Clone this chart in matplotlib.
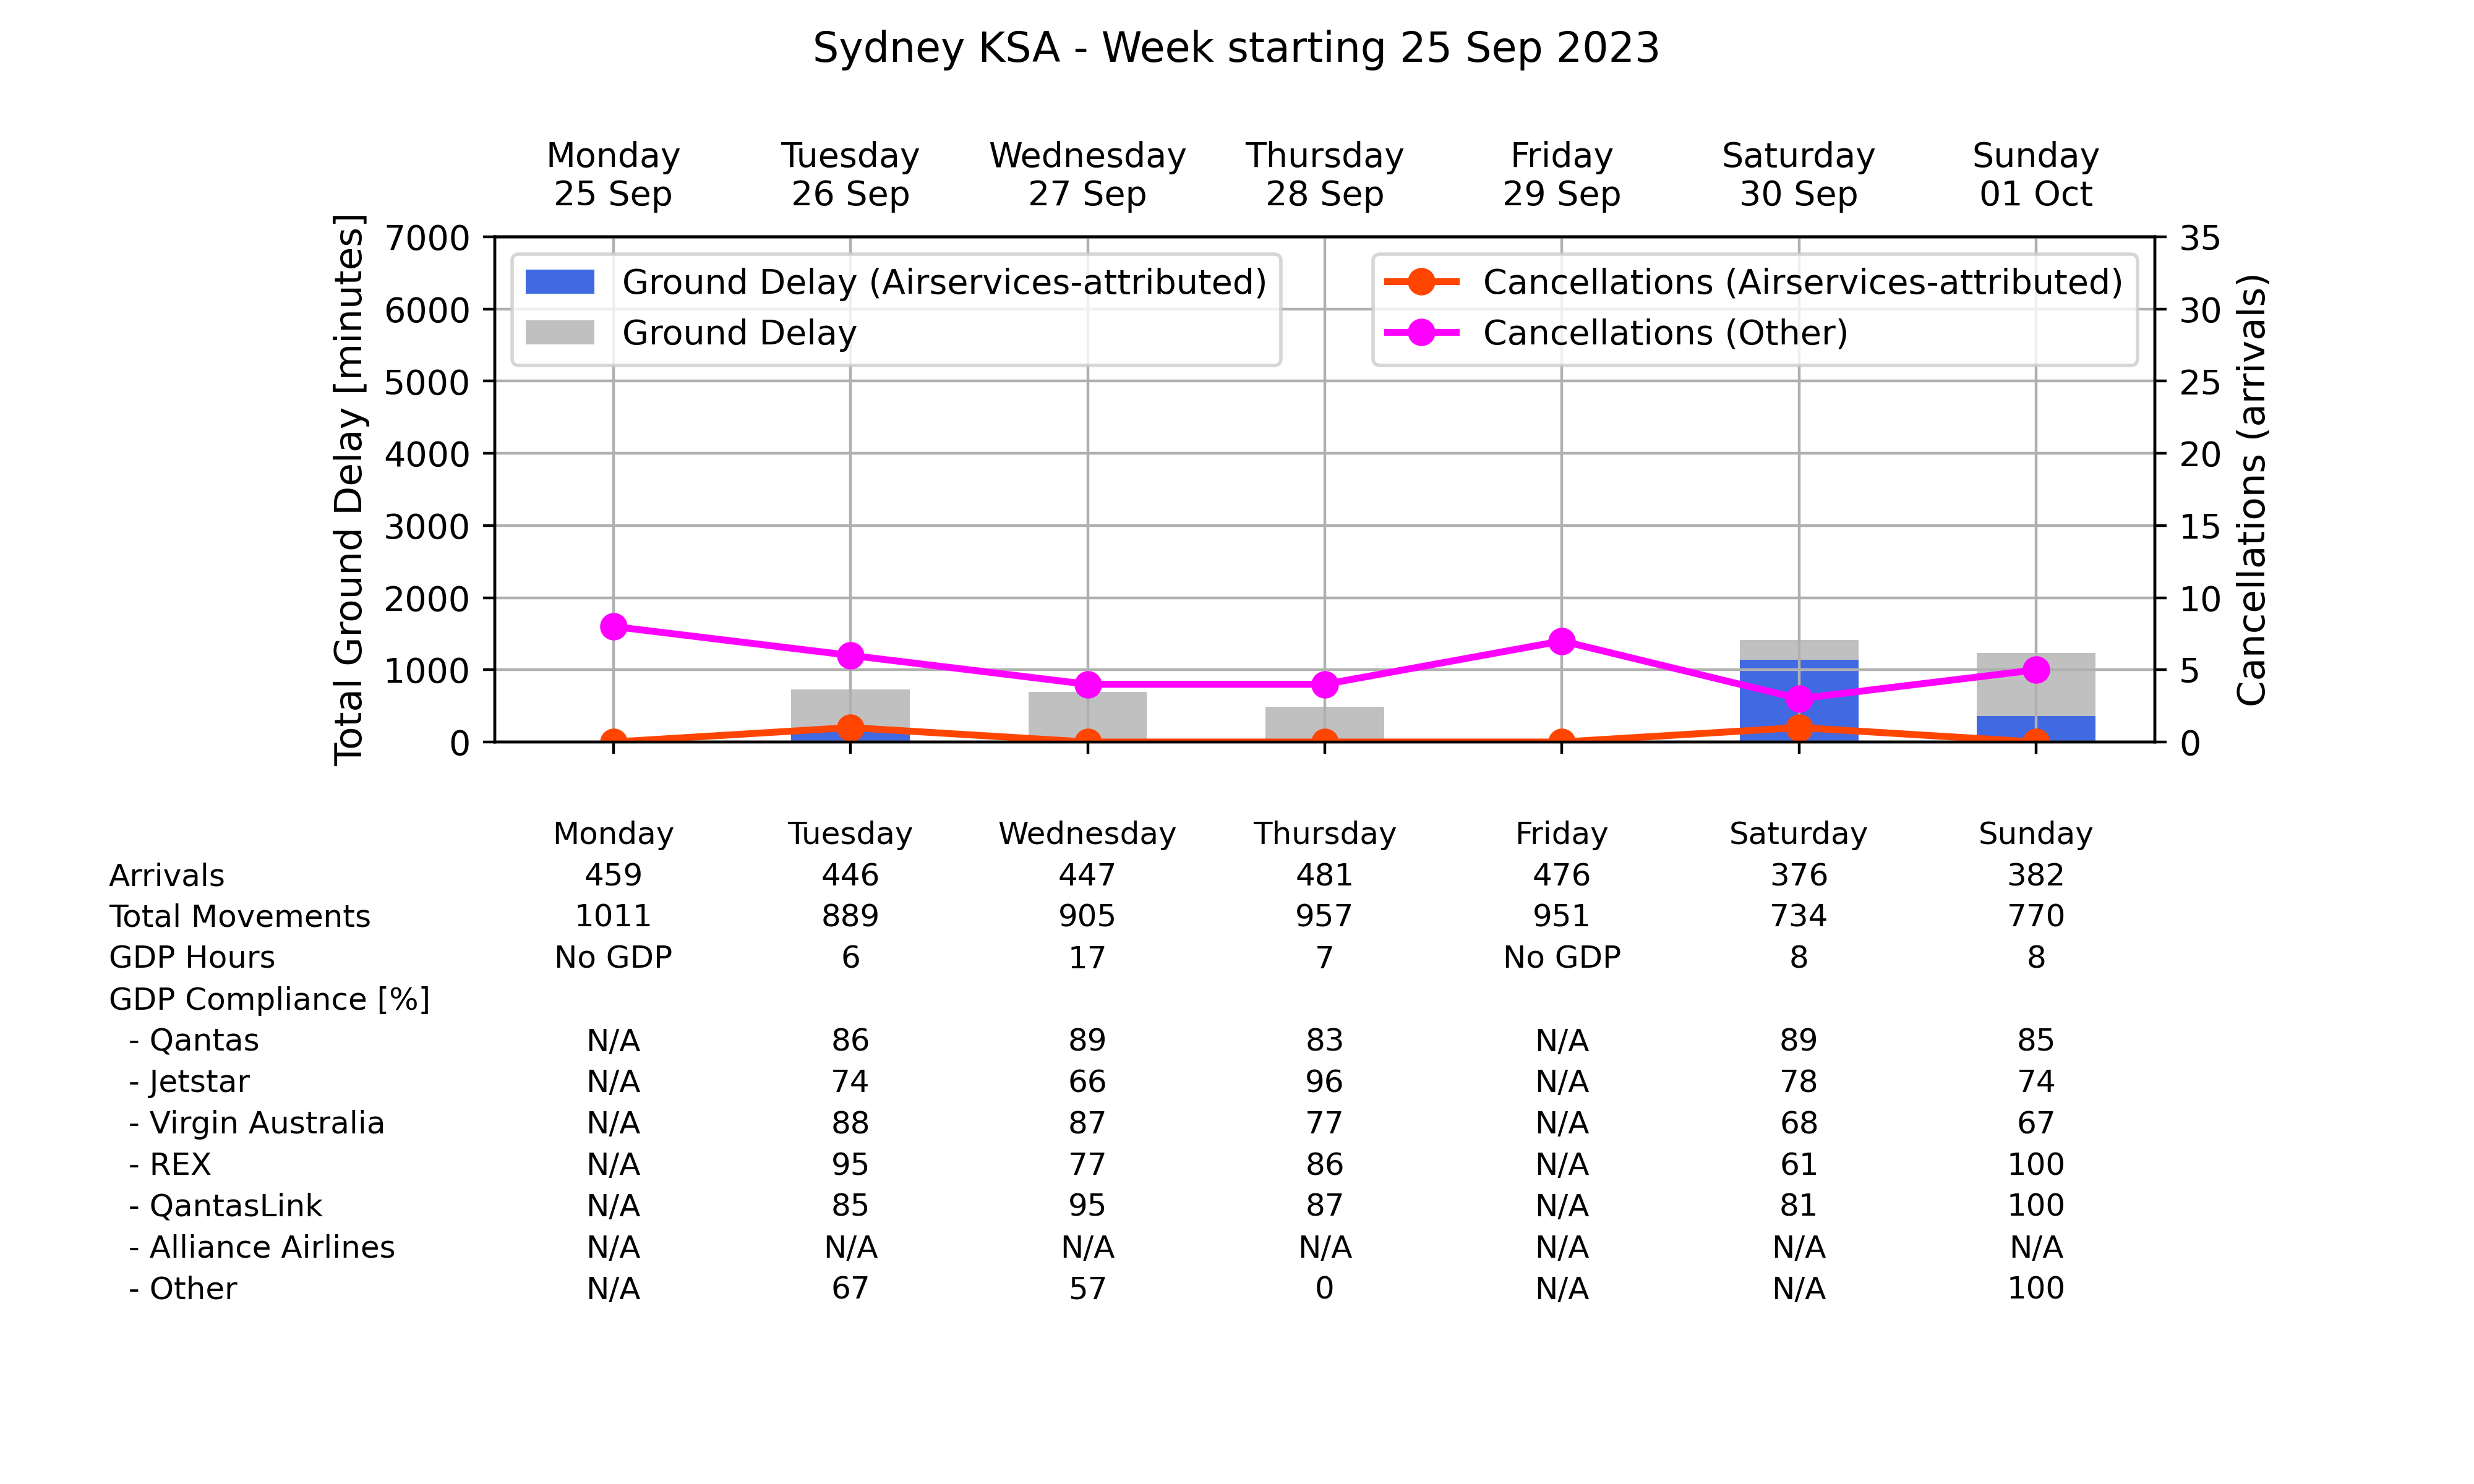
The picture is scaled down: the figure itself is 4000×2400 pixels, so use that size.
import numpy as np
import matplotlib.pyplot as plt
import matplotlib.transforms as mtransforms

# dados da semana
dias = ["Monday", "Tuesday", "Wednesday", "Thursday", "Friday", "Saturday", "Sunday"]
datas = ["25 Sep", "26 Sep", "27 Sep", "28 Sep", "29 Sep", "30 Sep", "01 Oct"]

atraso_total = [0, 724, 690, 491, 0, 1414, 1233]
atraso_airservices = [0, 150, 0, 0, 0, 1138, 362]
cancel_airservices = [0, 1, 0, 0, 0, 1, 0]
cancel_outros = [8, 6, 4, 4, 7, 3, 5]

arrivals = ["459", "446", "447", "481", "476", "376", "382"]
total_movements = ["1011", "889", "905", "957", "951", "734", "770"]
gdp_hours = ["No GDP", "6", "17", "7", "No GDP", "8", "8"]
qantas = ["N/A", "86", "89", "83", "N/A", "89", "85"]
jetstar = ["N/A", "74", "66", "96", "N/A", "78", "74"]
virgin = ["N/A", "88", "87", "77", "N/A", "68", "67"]
rex = ["N/A", "95", "77", "86", "N/A", "61", "100"]
qantaslink = ["N/A", "85", "95", "87", "N/A", "81", "100"]
alliance = ["N/A", "N/A", "N/A", "N/A", "N/A", "N/A", "N/A"]
outros = ["N/A", "67", "57", "0", "N/A", "N/A", "100"]

linhas_tabela = [
    ("Arrivals", arrivals),
    ("Total Movements", total_movements),
    ("GDP Hours", gdp_hours),
    ("GDP Compliance [%]", None),
    ("  - Qantas", qantas),
    ("  - Jetstar", jetstar),
    ("  - Virgin Australia", virgin),
    ("  - REX", rex),
    ("  - QantasLink", qantaslink),
    ("  - Alliance Airlines", alliance),
    ("  - Other", outros),
]

x = np.arange(len(dias))

fig = plt.figure(figsize=(10, 6), dpi=400)
ax1 = fig.add_axes([0.2, 0.5, 0.671, 0.3405])
ax2 = ax1.twinx()

# barras de atraso
ax1.bar(x, atraso_total, 0.5, color="silver", label="Ground Delay")
ax1.bar(x, atraso_airservices, 0.5, color="royalblue", label="Ground Delay (Airservices-attributed)")
ax1.set_xlim(-0.5, len(dias) - 0.5)
ax1.set_ylim(0, 7000)
ax1.set_yticks(np.arange(0, 7001, 1000))
ax1.set_xticks(x)
ax1.set_xticklabels([])
ax1.set_ylabel("Total Ground Delay [minutes]", fontsize=11)
ax1.grid(True)

h, l = ax1.get_legend_handles_labels()
ax1.legend(h[::-1], l[::-1], loc="upper left")

# linhas de cancelamentos
ax2.plot(x, cancel_airservices, marker="o", color="orangered", lw=2, ms=7,
         label="Cancellations (Airservices-attributed)")
ax2.plot(x, cancel_outros, marker="o", color="magenta", lw=2, ms=7,
         label="Cancellations (Other)")
ax2.set_ylim(0, 35)
ax2.set_yticks(np.arange(0, 36, 5))
ax2.set_ylabel("Cancellations (arrivals)", fontsize=11)
ax2.legend(loc="upper right")

# eixo de cima com os dias
topo = ax1.secondary_xaxis("top")
topo.set_xticks(x)
topo.set_xticklabels([f"{d}\n{dt}" for d, dt in zip(dias, datas)])
topo.tick_params(length=0, pad=7)

fig.suptitle("Sydney KSA - Week starting 25 Sep 2023", fontsize=12, y=0.98)

# tabela em texto
trans = mtransforms.blended_transform_factory(ax1.transData, fig.transFigure)
y0 = 0.437
passo = 0.02786
for i, d in enumerate(dias):
    fig.text(x[i], y0, d, transform=trans, ha="center", va="center", fontsize=9)
for j, (nome, valores) in enumerate(linhas_tabela):
    yy = y0 - (j + 1) * passo
    fig.text(0.044, yy, nome, ha="left", va="center", fontsize=9)
    if valores is None:
        continue
    for i, v in enumerate(valores):
        fig.text(x[i], yy, v, transform=trans, ha="center", va="center", fontsize=9)

fig.savefig("out.png", dpi=400)
